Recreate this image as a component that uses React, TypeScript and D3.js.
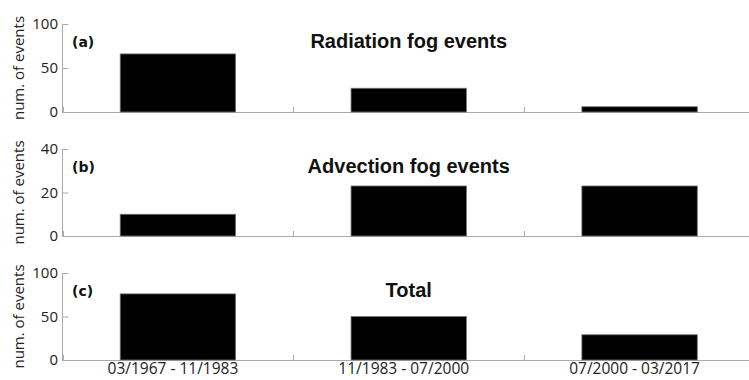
import { useEffect, useRef } from 'react';
import * as d3 from 'd3';

const periods = ['03/1967 - 11/1983', '11/1983 - 07/2000', '07/2000 - 03/2017'];
const radiation = [66, 27, 6];
const advection = [10, 23, 23];
const total = [76, 50, 29];
const panelTitles = ['Radiation fog events', 'Advection fog events', 'Total'];
const panelTags = ['(a)', '(b)', '(c)'];
const yMaxes = [100, 40, 100];
const yTicks = [[0, 50, 100], [0, 20, 40], [0, 50, 100]];

const W = 749;
const H = 380;

function App() {
  const ref = useRef<SVGSVGElement>(null);

  useEffect(() => {
    const svg = d3.select(ref.current).attr('width', W).attr('height', H);
    svg.selectAll('*').remove();

    const series = [radiation, advection, total];
    // top / bottom pixel of each panel's y range
    const panels = [
      { top: 24, bottom: 112 },
      { top: 149, bottom: 236 },
      { top: 273, bottom: 360 },
    ];

    const x = d3.scaleLinear().domain([0.5, 3.5]).range([62.5, 755]);
    const barW = x(1.25) - x(0.75);
    const axisCol = '#aaa';
    const tickFont = '"Open Sans", sans-serif';

    panels.forEach((p, i) => {
      const y = d3.scaleLinear().domain([0, yMaxes[i]]).range([p.bottom, p.top]);
      const g = svg.append('g');

      // bottom axis
      g.append('line')
        .attr('x1', x(0.5)).attr('x2', W)
        .attr('y1', y(0) + 0.5).attr('y2', y(0) + 0.5)
        .attr('stroke', axisCol);
      g.selectAll('line.xt')
        .data(d3.range(0.5, 3.51, 0.5))
        .join('line')
        .attr('class', 'xt')
        .attr('x1', d => Math.round(x(d)) + 0.5)
        .attr('x2', d => Math.round(x(d)) + 0.5)
        .attr('y1', y(0))
        .attr('y2', y(0) - 5)
        .attr('stroke', axisCol);

      // bars
      g.selectAll('rect')
        .data(series[i])
        .join('rect')
        .attr('x', (_, j) => x(j + 1) - barW / 2)
        .attr('y', d => y(d))
        .attr('width', barW)
        .attr('height', d => y(0) - y(d))
        .attr('fill', '#000')
        .attr('stroke', '#777')
        .attr('stroke-width', 0.8);

      // left axis
      g.append('line')
        .attr('x1', x(0.5)).attr('x2', x(0.5))
        .attr('y1', y(yMaxes[i])).attr('y2', y(0) + 1)
        .attr('stroke', axisCol);
      g.selectAll('line.yt')
        .data(yTicks[i])
        .join('line')
        .attr('class', 'yt')
        .attr('x1', x(0.5))
        .attr('x2', x(0.5) + 6)
        .attr('y1', d => y(d) + 0.5)
        .attr('y2', d => y(d) + 0.5)
        .attr('stroke', axisCol);
      g.selectAll('text.yl')
        .data(yTicks[i])
        .join('text')
        .attr('class', 'yl')
        .attr('x', 58)
        .attr('y', d => y(d) + 5)
        .attr('text-anchor', 'end')
        .attr('font-family', tickFont)
        .attr('font-size', 15)
        .attr('fill', '#222')
        .text(d => d);

      // y label
      g.append('text')
        .attr('transform', `translate(24,${(p.top + p.bottom) / 2}) rotate(-90)`)
        .attr('text-anchor', 'middle')
        .attr('font-family', tickFont)
        .attr('font-size', 15)
        .attr('fill', '#222')
        .text('num. of events');

      // tag and title
      g.append('text')
        .attr('x', 72)
        .attr('y', p.top + 23)
        .attr('font-family', '"DejaVu Sans", sans-serif')
        .attr('font-weight', 'bold')
        .attr('font-size', 14)
        .attr('fill', '#111')
        .text(panelTags[i]);
      g.append('text')
        .attr('x', x(2))
        .attr('y', p.top + 24)
        .attr('text-anchor', 'middle')
        .attr('font-family', '"Liberation Sans", Arial, sans-serif')
        .attr('font-weight', 'bold')
        .attr('font-size', 20)
        .attr('fill', '#111')
        .text(panelTitles[i]);
    });

    // category labels under the last panel
    svg.selectAll('text.cat')
      .data(periods)
      .join('text')
      .attr('class', 'cat')
      .attr('x', (_, j) => x(j + 1) - 5)
      .attr('y', 374)
      .attr('text-anchor', 'middle')
      .attr('font-family', tickFont)
      .attr('font-size', 15.5)
      .attr('fill', '#222')
      .text(d => d);

    return () => { svg.selectAll('*').remove(); };
  }, []);

  return (
    <svg
      ref={ref}
      style={{ position: 'absolute', left: 0, top: 0, background: '#fff' }}
      role="img"
      aria-label="Fog events per period"
    />
  );
}

export default App;
